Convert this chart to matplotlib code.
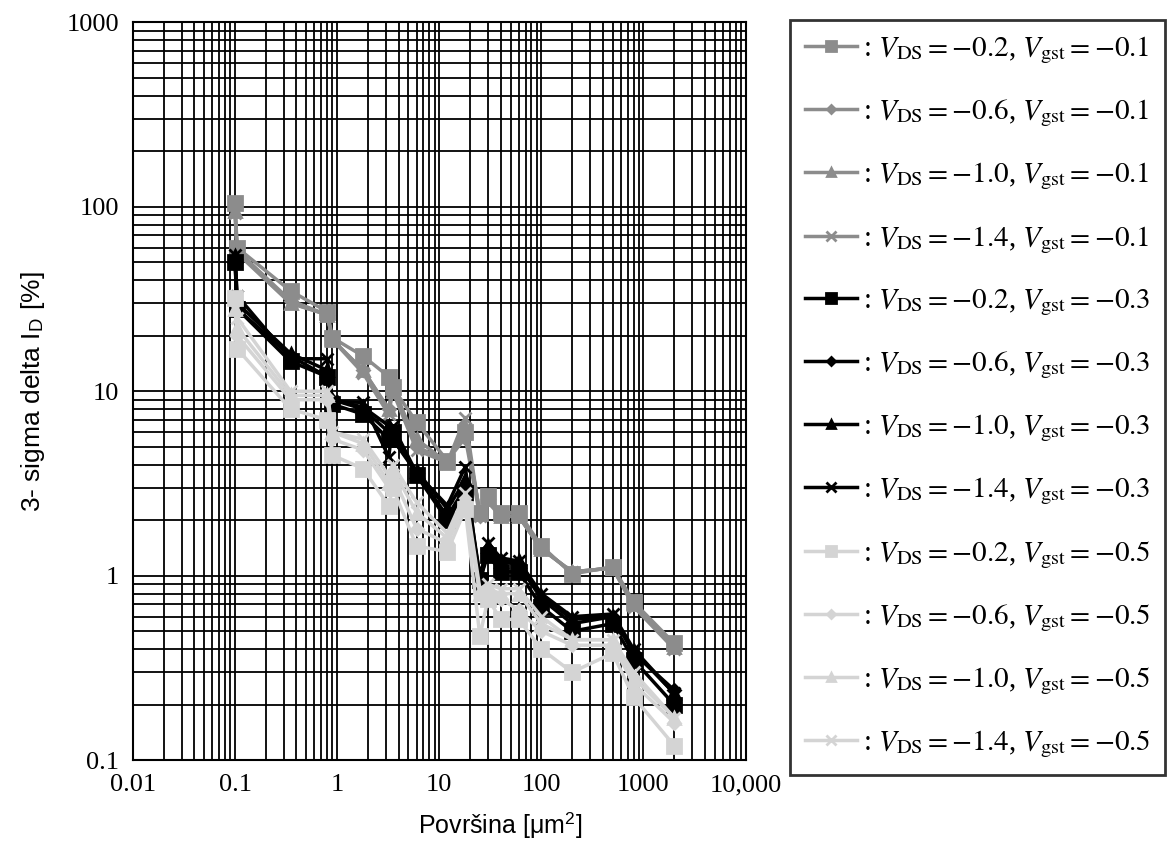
import numpy as np
from matplotlib import pyplot as plt

plt.rcParams['font.family'] = 'Liberation Serif'
plt.rcParams['mathtext.fontset'] = 'stix'

# surface area [um^2]
area = [0.1, 0.105, 0.35, 0.8, 0.9, 1.8, 3.2, 3.5, 6, 12, 18, 25, 30, 40, 60, 100, 200, 500, 800, 2000]

vds = ['\u22120.2', '\u22120.6', '\u22121.0', '\u22121.4']
vgst = ['\u22120.1', '\u22120.3', '\u22120.5']

# Vgst = -0.1
g_02 = [105, 60, 35, 27, 19.5, 15.5, 12, 10.5, 6.8, 4.2, 6.0, 2.2, 2.7, 2.2, 2.2, 1.45, 1.02, 1.12, 0.72, 0.43]
g_06 = [100, 58, 31, 26, 19, 13, 8, 11, 5.0, 4.2, 5.6, 2.1, 2.6, 2.1, 2.1, 1.4, 1.05, 1.1, 0.70, 0.41]
g_10 = [95, 57, 30, 26, 19, 13, 8, 10, 5.5, 4.1, 6.2, 2.2, 2.6, 2.1, 2.1, 1.4, 1.05, 1.1, 0.70, 0.41]
g_14 = [92, 56, 30, 26, 19, 12.5, 7.5, 10, 4.8, 4.1, 7.2, 2.1, 2.5, 2.1, 2.1, 1.4, 1.05, 1.1, 0.68, 0.40]
# Vgst = -0.3
b_02 = [50, 28, 14.5, 12, 8.5, 7.5, 5.5, 6.0, 3.5, 2.0, 2.8, 0.95, 1.3, 1.05, 1.05, 0.68, 0.5, 0.55, 0.35, 0.2]
b_06 = [52, 28, 15.5, 12, 9, 8, 6.0, 5.5, 3.6, 2.1, 3.0, 1.0, 1.4, 1.2, 1.15, 0.75, 0.55, 0.6, 0.38, 0.24]
b_10 = [54, 30, 16, 13, 9, 8.2, 6.5, 5.5, 3.7, 2.3, 3.3, 1.0, 1.45, 1.2, 1.2, 0.78, 0.58, 0.6, 0.39, 0.23]
b_14 = [55, 33, 15, 15, 8.8, 8.7, 4.4, 6.5, 3.6, 2.4, 3.9, 0.88, 1.5, 1.25, 1.2, 0.8, 0.6, 0.62, 0.4, 0.23]
# Vgst = -0.5
l_02 = [32, 17, 8, 7, 4.5, 3.8, 2.4, 3.0, 1.45, 1.35, 2.3, 0.47, 0.75, 0.58, 0.58, 0.4, 0.3, 0.38, 0.22, 0.12]
l_06 = [30, 20, 9, 9, 5.5, 4.8, 3.0, 3.5, 1.8, 1.5, 2.5, 0.8, 0.8, 0.75, 0.65, 0.5, 0.42, 0.42, 0.26, 0.16]
l_10 = [28, 22, 9.5, 9.5, 6, 5.2, 3.2, 3.8, 2.2, 1.6, 2.6, 0.8, 0.85, 0.8, 0.8, 0.55, 0.45, 0.45, 0.28, 0.17]
l_14 = [33, 25, 10, 10, 6, 5.5, 3.5, 4.0, 2.5, 1.7, 2.8, 0.85, 0.9, 0.85, 0.85, 0.6, 0.45, 0.45, 0.3, 0.17]

groups = [[g_02, g_06, g_10, g_14], [b_02, b_06, b_10, b_14], [l_02, l_06, l_10, l_14]]
colors = ['#8c8c8c', 'black', '#d4d4d4']
markers = [('s', 10), ('D', 6), ('^', 8), ('x', 9)]

fig = plt.figure(figsize=(11.76, 8.58), dpi=100)
ax = fig.add_axes([0.113, 0.114, 0.521, 0.860])

for gi, group in enumerate(groups):
    for si, ys in enumerate(group):
        m, ms = markers[si]
        ax.plot(area, ys, color=colors[gi], marker=m, ms=ms, mew=2, lw=2.5, zorder=3,
                label=f': $V_{{\\mathrm{{DS}}}} = {vds[si]}$, $V_{{\\mathrm{{gst}}}} = {vgst[gi]}$')

ax.set_xscale('log')
ax.set_yscale('log')
ax.set_xlim(0.01, 10000)
ax.set_ylim(0.1, 1000)
ax.grid(True, which='both', color='black', lw=1.3)
ax.tick_params(which='both', length=0, labelsize=19, pad=10)
ax.set_xticks([0.01, 0.1, 1, 10, 100, 1000, 10000])
ax.set_xticklabels(['0.01', '0.1', '1', '10', '100', '1000', '10,000'])
ax.set_yticks([0.1, 1, 10, 100, 1000])
ax.set_yticklabels(['0.1', '1', '10', '100', '1000'])
for s in ax.spines.values():
    s.set_linewidth(1.5)

ax.set_xlabel('Površina [μm$^\\mathregular{2}$]', family='Liberation Sans', fontsize=18)
ax.xaxis.set_label_coords(0.6, -0.068)
ax.set_ylabel('3- sigma delta I$_\\mathregular{D}$ [%]', family='Liberation Sans', fontsize=19, labelpad=14)

leg = fig.legend(loc='upper left', bbox_to_anchor=(0.672, 0.977), fontsize=21, frameon=True,
                 fancybox=False, edgecolor='black', handlelength=1.8, handletextpad=0.2,
                 labelspacing=1.08, borderpad=0.5, borderaxespad=0, markerscale=0.75)
leg.get_frame().set_linewidth(2)

fig.savefig('out.png', dpi=100)
